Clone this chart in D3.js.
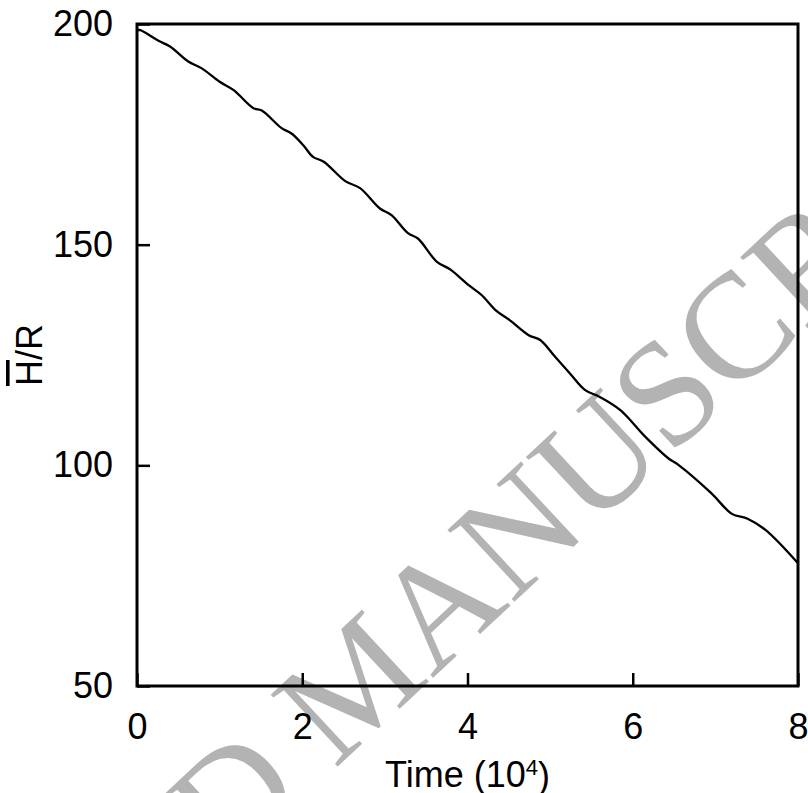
<!DOCTYPE html>
<html>
<head>
<meta charset="utf-8">
<script src="https://cdn.jsdelivr.net/npm/d3@7"></script>
<style>
  body { margin: 0; background: #fff; }
  svg text { font-family: "Liberation Sans", Arial, sans-serif; }
</style>
</head>
<body>
<svg id="chart" width="808" height="793"></svg>
<script>
// Data (time in units of 10^4)
const time = [0, 0.04, 0.26, 0.40, 0.62, 0.78, 1.00, 1.17, 1.41, 1.51, 1.75, 1.87, 2.01, 2.13,
  2.26, 2.52, 2.70, 2.94, 3.08, 3.28, 3.40, 3.63, 3.79, 4.01, 4.17, 4.35, 4.51, 4.74, 4.88,
  5.06, 5.24, 5.42, 5.60, 5.85, 6.15, 6.43, 6.56, 6.95, 7.20, 7.39, 7.61, 8.0];
const hOverR = [198.6, 198.6, 196.2, 194.9, 191.5, 190.0, 186.9, 185.0, 180.9, 180.4, 176.4, 175.2,
  172.6, 169.9, 168.8, 164.4, 162.8, 158.2, 156.7, 152.6, 151.4, 146.1, 144.4, 140.9, 138.6,
  135.0, 132.9, 129.5, 128.4, 124.6, 120.8, 117.1, 115.5, 112.5, 106.5, 101.6, 100.0, 93.7,
  89.0, 87.9, 85.3, 77.8];
const xTicks = [0, 2, 4, 6, 8];
const yTicks = [50, 100, 150, 200];
const watermarkText = "ACCEPTED MANUSCRIPT";

const margin = { top: 24, right: 10, bottom: 107, left: 137 };
const svg = d3.select("#chart");
const width = 808 - margin.left - margin.right;
const height = 793 - margin.top - margin.bottom;

///////////////////////////////////////////////////////////
// Watermark (behind everything)
svg.append("text")
  .attr("transform", "translate(391,717) rotate(-43)")
  .attr("text-anchor", "middle")
  .style("font-family", '"Liberation Serif", "Times New Roman", serif')
  .style("font-size", "150px")
  .attr("fill", "#b3b3b3")
  .text(watermarkText);

const g = svg.append("g")
  .attr("transform", `translate(${margin.left},${margin.top})`);

const x = d3.scaleLinear().domain([0, 8]).range([0, width]);
const y = d3.scaleLinear().domain([50, 200]).range([height, 0]);

///////////////////////////////////////////////////////////
// Axes with inward ticks
const xAxis = g.append("g")
  .attr("transform", `translate(0,${height})`)
  .call(d3.axisBottom(x).tickValues(xTicks).tickSize(-13).tickPadding(27).tickFormat(d3.format("d")));

const yAxis = g.append("g")
  .call(d3.axisLeft(y).tickValues(yTicks).tickSize(-13).tickPadding(24).tickFormat(d3.format("d")));

[xAxis, yAxis].forEach(function (ax) {
  ax.select(".domain").remove();
  ax.selectAll(".tick line").attr("stroke", "#000").attr("stroke-width", 2.5);
  ax.selectAll(".tick text")
    .attr("fill", "#000")
    .style("font-size", "36px")
    .style("font-family", '"Liberation Sans", Arial, sans-serif');
});

///////////////////////////////////////////////////////////
// The curve
const line = d3.line()
  .x((d, i) => x(time[i]))
  .y(d => y(d))
  .curve(d3.curveCatmullRom.alpha(0.5));

g.append("path")
  .datum(hOverR)
  .attr("fill", "none")
  .attr("stroke", "#000")
  .attr("stroke-width", 2.3)
  .attr("d", line);

// Frame
g.append("rect")
  .attr("x", 0)
  .attr("y", 0)
  .attr("width", width)
  .attr("height", height)
  .attr("fill", "none")
  .attr("stroke", "#000")
  .attr("stroke-width", 3);

///////////////////////////////////////////////////////////
// Axis titles
const xTitle = g.append("text")
  .attr("x", width / 2)
  .attr("y", height + 101)
  .attr("text-anchor", "middle")
  .style("font-size", "36px");
xTitle.append("tspan").text("Time (10");
xTitle.append("tspan").attr("dy", "-0.55em").style("font-size", "22px").text("4");
xTitle.append("tspan").attr("dy", "0.35em").text(")");

const yTitle = g.append("text")
  .attr("transform", `translate(${-95},${height / 2}) rotate(-90)`)
  .attr("text-anchor", "middle")
  .style("font-size", "36px");
yTitle.append("tspan").style("text-decoration", "overline").text("H");
yTitle.append("tspan").text("/R");
</script>
</body>
</html>
